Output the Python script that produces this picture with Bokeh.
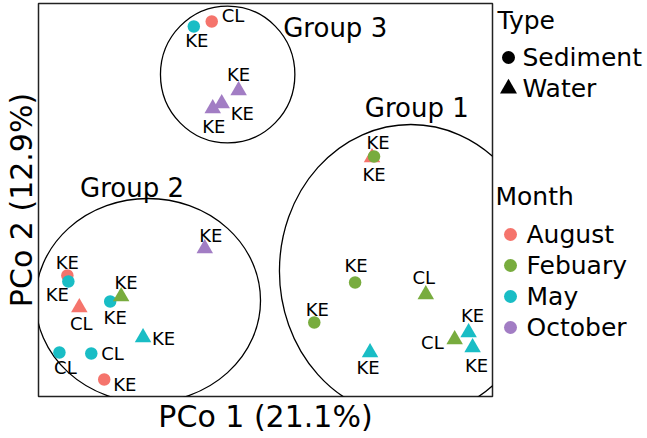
from bokeh.plotting import figure
from bokeh.layouts import row
from bokeh.models import Range1d, ColumnDataSource, FixedTicker
from bokeh.core.properties import value
from bokeh.embed import file_html
from bokeh.resources import INLINE

# ---------------- data (arbitrary PCo units) ----------------
pco1 = [156, 174, 201, 184, 175, 335, 337, 318, 277, 333, 389, 418, 432, 436,
        167, 29, 30, 41, 72, 83, 105, 21, 53, 66]
pco2 = [370, 375, 306, 293, 288, 239, 240, 114, 74, 44, 102, 57, 64, 49,
        148, 121, 115, 89, 95, 100, 59, 44, 43, 17]
month = ["May", "August", "October", "October", "October", "August", "Febuary",
         "Febuary", "Febuary", "May", "Febuary", "Febuary", "May", "May",
         "October", "August", "May", "August", "May", "Febuary", "May", "May",
         "May", "August"]
sample_type = ["Sediment", "Sediment", "Water", "Water", "Water", "Water",
               "Sediment", "Sediment", "Sediment", "Water", "Water", "Water",
               "Water", "Water", "Water", "Sediment", "Sediment", "Water",
               "Sediment", "Water", "Water", "Sediment", "Sediment", "Sediment"]
site = ["KE", "CL", "KE", "KE", "KE", "KE", "KE", "KE", "KE", "KE", "CL", "CL",
        "KE", "KE", "KE", "KE", "KE", "CL", "KE", "KE", "KE", "CL", "CL", "KE"]

months = ["August", "Febuary", "May", "October"]
types = ["Sediment", "Water"]

group_names = ["Group 1", "Group 2", "Group 3"]
group_cx = [374, 110, 190]
group_cy = [125.5, 96, 322]
group_w = [264, 226, 135]
group_h = [293, 204, 137]
group_label_x = [380, 94, 298]
group_label_y = [289, 209, 369]

x_title = "PCo 1 (21.1%)"
y_title = "PCo 2 (12.9%)"

# ---------------- styles ----------------
FONT = "DejaVu Sans"
month_colors = {"August": "#F5746C", "Febuary": "#78AC3E",
                "May": "#19BDC5", "October": "#A27DC4"}
type_marker = {"Sediment": "circle", "Water": "triangle"}
type_size = {"Sediment": 12.5, "Water": 16.5}
# text label offsets in screen px (dx, dy-down, align)
label_offsets = [(3, 14, "center"), (10, -6, "left"), (0, -16, "center"),
                 (9, 10, "left"), (1, 18, "center"), (6, -15, "center"),
                 (0, 18, "center"), (1, -17, "center"), (3, -13, "center"),
                 (-2, 15, "center"), (-2, -17, "center"), (-11, 3, "right"),
                 (4, -17, "center"), (4, 18, "center"), (6, -13, "center"),
                 (0, -13, "center"), (-11, 13, "center"), (2, 16, "center"),
                 (5, 16, "center"), (5, -14, "center"), (9, 1, "left"),
                 (6, 15, "center"), (10, 0, "left"), (9, 5, "left")]

H = 438
MAIN_W = 494
LEG_W = 647 - MAIN_W
FRAME_TOP, FRAME_BOTTOM = 3, 396

p = figure(width=MAIN_W, height=H, output_backend="svg", toolbar_location=None,
           x_range=Range1d(0, 456), y_range=Range1d(0, 393),
           min_border_left=36, min_border_right=2,
           min_border_top=FRAME_TOP, min_border_bottom=H - FRAME_BOTTOM)
p.grid.visible = False
p.outline_line_color = "#222222"
p.outline_line_width = 1.5
p.background_fill_color = "white"
p.border_fill_color = "white"

for ax in (p.xaxis[0], p.yaxis[0]):
    ax.ticker = FixedTicker(ticks=[])
    ax.major_tick_out = 0
    ax.major_tick_in = 0
    ax.minor_tick_out = 0
    ax.minor_tick_in = 0
    ax.axis_line_color = None
    ax.major_label_text_font_size = "0px"
    ax.axis_label_text_font = FONT
    ax.axis_label_text_font_style = "normal"
    ax.axis_label_text_color = "black"
p.xaxis.axis_label = x_title
p.xaxis.axis_label_text_font_size = "30px"
p.xaxis.axis_label_standoff = 2
p.yaxis.axis_label = y_title
p.yaxis.axis_label_text_font_size = "30px"
p.yaxis.axis_label_standoff = 0

# group ellipses
p.ellipse(x=group_cx, y=group_cy, width=group_w, height=group_h,
          fill_color=None, line_color="black", line_width=1.3)
p.text(x=group_label_x, y=group_label_y, text=group_names,
       text_font=value(FONT), text_font_size="26px",
       text_align="center", text_baseline="middle", text_color="black")

# points
src = ColumnDataSource(dict(
    x=pco1, y=pco2,
    mk=[type_marker[t] for t in sample_type],
    sz=[type_size[t] for t in sample_type],
    col=[month_colors[m] for m in month],
))
p.scatter(x="x", y="y", marker="mk", size="sz", fill_color="col",
          line_color=None, source=src)

# site labels
for align in ["center", "left", "right"]:
    idx = [i for i, o in enumerate(label_offsets) if o[2] == align]
    s = ColumnDataSource(dict(
        x=[pco1[i] for i in idx], y=[pco2[i] for i in idx],
        t=[site[i] for i in idx],
        dx=[label_offsets[i][0] for i in idx],
        dy=[label_offsets[i][1] for i in idx]))
    p.text(x="x", y="y", text="t", x_offset="dx", y_offset="dy", source=s,
           text_font=value(FONT), text_font_size="18px", text_align=align,
           text_baseline="middle", text_color="black")

# ---------------- legend panel (page-like coordinates, y down) ----------------
# the row layout aligns this panel's frame with the main frame (top 3, bottom 396)
lg = figure(width=LEG_W, height=H, output_backend="svg", toolbar_location=None,
            x_range=Range1d(0, LEG_W), y_range=Range1d(FRAME_BOTTOM, FRAME_TOP),
            x_axis_location=None, y_axis_location=None,
            min_border_left=0, min_border_right=0,
            min_border_top=FRAME_TOP, min_border_bottom=H - FRAME_BOTTOM,
            outline_line_color=None)
lg.grid.visible = False
lg.border_fill_color = "white"

TYPE_TOP, MONTH_TOP, ROW = 20, 196, 31
type_rows = [TYPE_TOP + 37 + ROW * i for i in range(len(types))]
month_rows = [MONTH_TOP + 38 + ROW * i for i in range(len(months))]

lg.text(x=[3, 1], y=[TYPE_TOP, MONTH_TOP], text=["Type", "Month"],
        text_font=value(FONT), text_font_size="25px", text_align="left",
        text_baseline="middle", text_color="black")
lg.scatter(x=[14] * len(types), y=type_rows,
           marker=[type_marker[t] for t in types],
           size=[13, 17], fill_color="black", line_color=None)
lg.text(x=[28] * len(types), y=type_rows, text=types,
        text_font=value(FONT), text_font_size="25px", text_align="left",
        text_baseline="middle", text_color="black")
lg.scatter(x=[16] * len(months), y=month_rows, marker="circle", size=13,
           fill_color=[month_colors[m] for m in months], line_color=None)
lg.text(x=[32] * len(months), y=month_rows, text=months,
        text_font=value(FONT), text_font_size="25px", text_align="left",
        text_baseline="middle", text_color="black")

layout = row(p, lg)
open("out.html", "w").write(file_html(layout, INLINE))
